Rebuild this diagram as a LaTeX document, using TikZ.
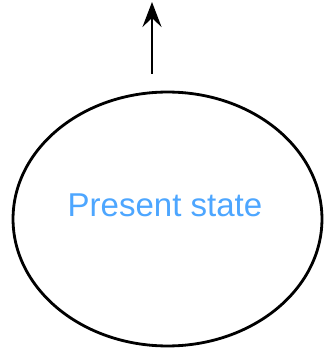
\documentclass[tikz,border=0pt]{standalone}
\usepackage{fontspec}
\setmainfont{Liberation Sans}
\usetikzlibrary{positioning, arrows.meta, shapes.geometric}
\definecolor{stateblue}{HTML}{4DA6FF}

\begin{document}
\begin{tikzpicture}[
      x=0.02cm, y=-0.02cm,
      statebox/.style={draw, line width=1.6pt, ellipse, minimum width=6.18cm, minimum height=5.08cm, inner sep=0pt},
      statetext/.style={text=stateblue, font=\fontsize{18.8}{22}\selectfont, inner sep=0pt},
      >={Stealth[length=5mm, width=3.8mm, inset=1.8mm]},
    ]
    \useasboundingbox (0,0) rectangle (325,351);
    \node[statebox] (present) at (167.5, 219) {};
    \node[statetext] (presentlabel) at (165, 205) {Present state};

    \coordinate (outstart) at (152, 74);
    \coordinate (outend) at (152, 2);
    \draw[->, line width=1.6pt] (outstart) -- (outend);
  \end{tikzpicture}
\end{document}
